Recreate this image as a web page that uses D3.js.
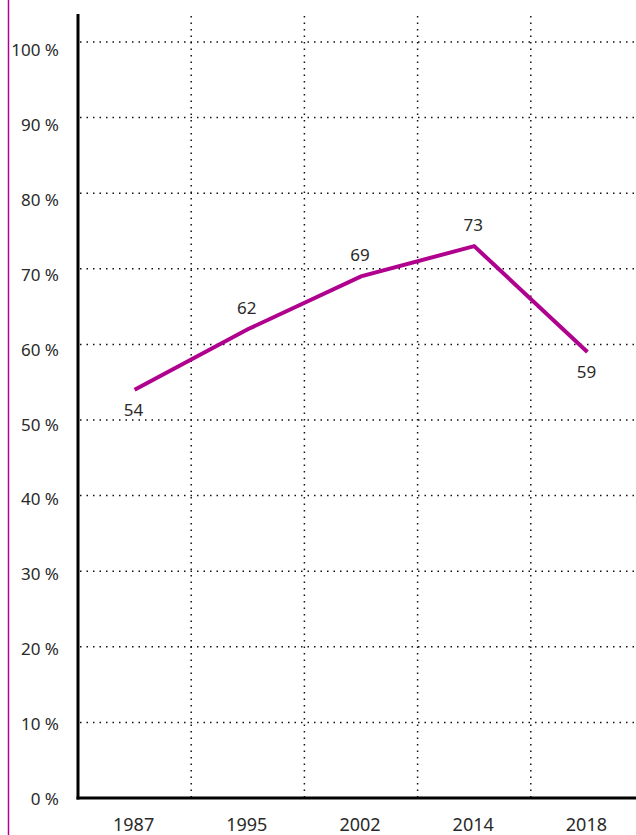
<!DOCTYPE html>
<html>
<head>
<meta charset="utf-8">
<script src="https://cdn.jsdelivr.net/npm/d3@7"></script>
<style>
  body { margin: 0; background: #fff; }
  text { font-family: "Noto Sans", "Open Sans", sans-serif; fill: #2a2a2a; }
</style>
</head>
<body>
<div id="chart"></div>
<script>
// chart values
var years = ["1987", "1995", "2002", "2014", "2018"];
var shares = [54, 62, 69, 73, 59];
var labelAbove = [false, true, true, true, false];
var yTicks = [0, 10, 20, 30, 40, 50, 60, 70, 80, 90, 100];

var W = 636, H = 835;
var magenta = "#b0008e";

var svg = d3.select("#chart")
    .append("svg")
    .attr("width", W)
    .attr("height", H);

// left accent line
svg.append("line")
    .attr("x1", 8.5).attr("x2", 8.5)
    .attr("y1", 0).attr("y2", H)
    .attr("stroke", magenta)
    .attr("stroke-width", 1.5);

var x = d3.scaleBand()
    .domain(years)
    .range([78, 644]);

var y = d3.scaleLinear()
    .domain([0, 100])
    .range([798, 42]);

// tick labels sit on a slightly tighter scale than the grid
var yLab = d3.scaleLinear()
    .domain([0, 100])
    .range([799, 50]);

// horizontal dotted grid
svg.append("g")
    .selectAll("line")
    .data(yTicks.filter(function(d) { return d > 0; }))
    .enter()
    .append("line")
    .attr("x1", 80).attr("x2", W)
    .attr("y1", function(d) { return y(d); })
    .attr("y2", function(d) { return y(d); })
    .attr("stroke", "#111")
    .attr("stroke-width", 1.5)
    .attr("stroke-dasharray", "1.5,5");

// vertical dotted grid between bands
svg.append("g")
    .selectAll("line")
    .data(years.slice(1))
    .enter()
    .append("line")
    .attr("x1", function(d) { return x(d); })
    .attr("x2", function(d) { return x(d); })
    .attr("y1", 16).attr("y2", 798)
    .attr("stroke", "#111")
    .attr("stroke-width", 1.5)
    .attr("stroke-dasharray", "1.5,5");

// y tick labels
svg.append("g")
    .selectAll("text")
    .data(yTicks)
    .enter()
    .append("text")
    .attr("x", 59)
    .attr("y", function(d) { return yLab(d) + 6; })
    .attr("text-anchor", "end")
    .style("font-size", "17px")
    .text(function(d) { return d + " %"; });

// x labels
svg.append("g")
    .selectAll("text")
    .data(years)
    .enter()
    .append("text")
    .attr("x", function(d) { return x(d) + x.bandwidth() / 2 - 1; })
    .attr("y", 831)
    .attr("text-anchor", "middle")
    .style("font-size", "18px")
    .text(function(d) { return d; });

// axes
svg.append("line")
    .attr("x1", 78).attr("x2", 78)
    .attr("y1", 14).attr("y2", 799.5)
    .attr("stroke", "#000")
    .attr("stroke-width", 3);

svg.append("line")
    .attr("x1", 76.5).attr("x2", W)
    .attr("y1", 798).attr("y2", 798)
    .attr("stroke", "#000")
    .attr("stroke-width", 3);

// series line
var pts = years.map(function(d, i) { return { year: d, v: shares[i], up: labelAbove[i] }; });

var line = d3.line()
    .x(function(d) { return x(d.year) + x.bandwidth() / 2; })
    .y(function(d) { return y(d.v); });

svg.append("path")
    .datum(pts)
    .attr("d", line)
    .attr("fill", "none")
    .attr("stroke", magenta)
    .attr("stroke-width", 4);

svg.append("g")
    .selectAll("text")
    .data(pts)
    .enter()
    .append("text")
    .attr("x", function(d) { return x(d.year) + x.bandwidth() / 2 - 1; })
    .attr("y", function(d) { return d.up ? y(d.v) - 15 : y(d.v) + 26; })
    .attr("text-anchor", "middle")
    .style("font-size", "17px")
    .text(function(d) { return d.v; });
</script>
</body>
</html>
